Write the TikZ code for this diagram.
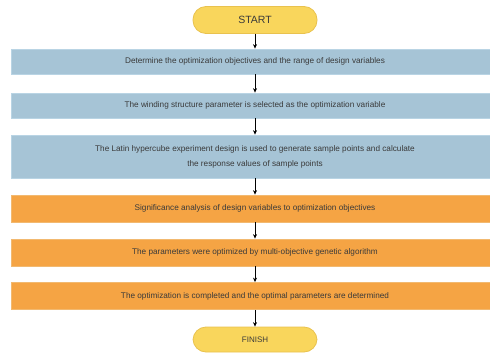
\documentclass[tikz,border=0pt]{standalone}
\usepackage{fontspec}
\setmainfont{Liberation Sans}
\usetikzlibrary{arrows.meta}
\definecolor{bluebox}{HTML}{A6C4D6}
\definecolor{blueedge}{HTML}{B9D4E4}
\definecolor{orangebox}{HTML}{F5A444}
\definecolor{orangeedge}{HTML}{F2B970}
\definecolor{yellowbox}{HTML}{F9D65C}
\definecolor{yellowedge}{HTML}{E9C24E}
\definecolor{txt}{HTML}{3A3A3A}
\tikzset{
  stepblue/.style={draw=blueedge, line width=0.8pt, fill=bluebox, minimum width=488pt, text=txt, font=\fontsize{8.2}{15}\selectfont, align=center, inner sep=0pt},
  steporange/.style={draw=orangeedge, line width=0.8pt, fill=orangebox, minimum width=488pt, minimum height=27pt, text=txt, font=\fontsize{8.2}{15}\selectfont, align=center, inner sep=0pt},
  terminal/.style={draw=yellowedge, line width=0.8pt, fill=yellowbox, rounded corners=13pt, minimum width=124pt, text=txt, inner sep=0pt},
  flow/.style={-{Stealth[length=4.5pt,width=4pt]}, line width=0.6pt, black}
}
\begin{document}
\begin{tikzpicture}[x=1pt,y=-1pt]
\useasboundingbox (0,0) rectangle (490,356);
\clip (0,0) rectangle (490,356);
\node[terminal, minimum height=27pt, font=\fontsize{10.5}{12}\selectfont] (start) at (255,20) {START};
\node[stepblue, minimum height=25pt] (b1) at (255,61.5) {Determine the optimization objectives and the range of design variables};
\node[stepblue, minimum height=25pt] (b2) at (255,105.5) {The winding structure parameter is selected as the optimization variable};
\node[stepblue, minimum height=43pt] (b3) at (255,156.5) {The Latin hypercube experiment design is used to generate sample points and calculate\\the response values of sample points};
\node[steporange] (b4) at (255,208.5) {Significance analysis of design variables to optimization objectives};
\node[steporange] (b5) at (255,252.5) {The parameters were optimized by multi-objective genetic algorithm};
\node[steporange] (b6) at (255,296) {The optimization is completed and the optimal parameters are determined};
\node[terminal, minimum height=25pt, font=\fontsize{8}{10}\selectfont] (finish) at (255,339.5) {FINISH};
\draw[flow] (start) -- (b1);
\draw[flow] (b1) -- (b2);
\draw[flow] (b2) -- (b3);
\draw[flow] (b3) -- (b4);
\draw[flow] (b4) -- (b5);
\draw[flow] (b5) -- (b6);
\draw[flow] (b6) -- (finish);
\end{tikzpicture}
\end{document}
